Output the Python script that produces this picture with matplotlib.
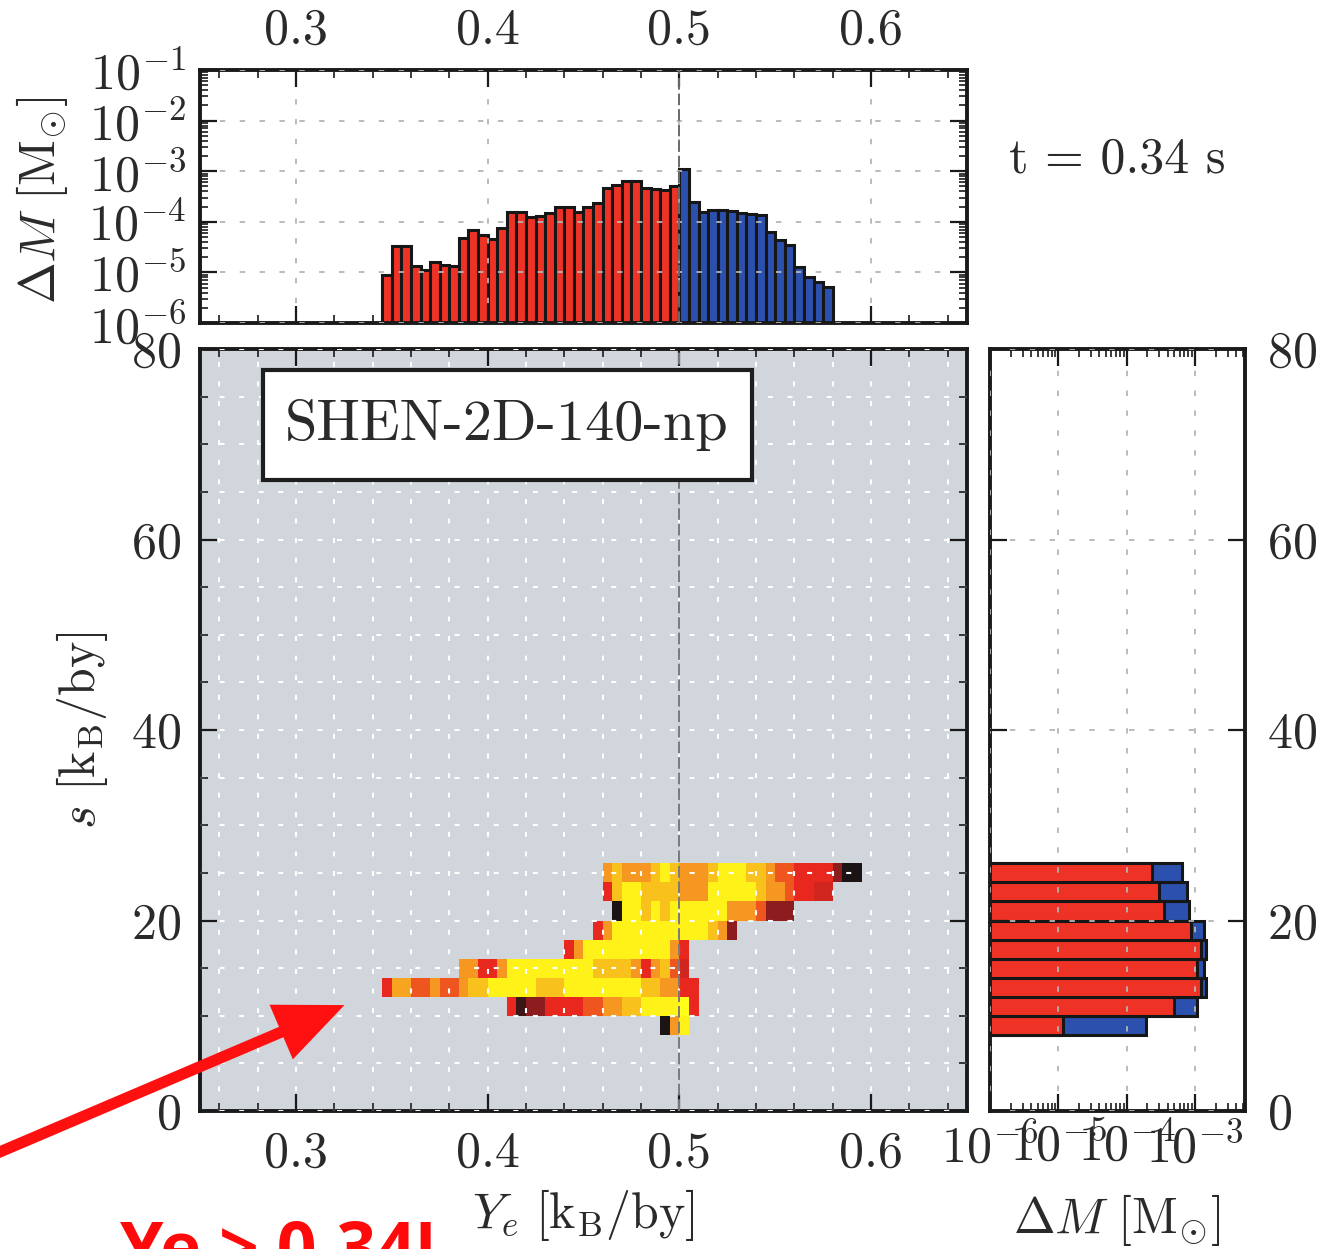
import numpy as np
import matplotlib
matplotlib.use("Agg")
import matplotlib.pyplot as plt
from matplotlib.colors import LinearSegmentedColormap
from matplotlib.ticker import MultipleLocator, LogLocator, NullFormatter
from matplotlib.patches import FancyArrowPatch, Rectangle, ArrowStyle

plt.rcParams['font.family'] = ['cmr10', 'DejaVu Serif']
plt.rcParams['mathtext.fontset'] = 'cm'
plt.rcParams['axes.unicode_minus'] = False
plt.rcParams['axes.formatter.use_mathtext'] = True

# ---------------- data ----------------
# top histogram: log10(Delta M) per Ye bin (bins of 0.005 starting at 0.345)
ye_bin_start = 0.345
ye_bin_width = 0.005
top_logm = [-5.05, -4.48, -4.48, -4.87, -4.95, -4.79, -4.85, -4.87, -4.32, -4.16,
            -4.26, -4.34, -4.13, -3.81, -3.81, -3.90, -3.89, -3.83, -3.70, -3.71,
            -3.81, -3.70, -3.62, -3.34, -3.27, -3.19, -3.19, -3.34, -3.36, -3.37,
            -3.29,
            -2.96, -3.61, -3.81, -3.77, -3.76, -3.78, -3.83, -3.84, -3.87, -4.20,
            -4.36, -4.46, -4.89, -5.09, -5.19, -5.29]

# right histogram: entropy bins (lower edges), log10 Delta M of Ye<0.5 part and total
s_bin_lo = [8, 10, 12, 14, 16, 18, 20, 22, 24]
s_bin_width = 2
right_red_logm = [-4.93, -3.31, -2.91, -2.97, -2.91, -3.06, -3.46, -3.53, -3.63]
right_total_logm = [-3.72, -2.97, -2.84, -2.87, -2.84, -2.87, -3.09, -3.12, -3.19]

# 2D histogram rows: (first Ye-bin index, log10 Delta M of consecutive cells)
heat_start_k = [29, 13, 0, 8, 19, 22, 24, 23, 23]
row_s08 = [-7.0, -4.9, -4.15]
row_s10 = [-5.65, -6.8, -6.25, -6.25, -5.65, -5.65, -5.65, -5.65, -5.3, -5.3,
           -4.9, -4.9, -4.6, -4.6, -4.15, -4.15, -4.15, -4.15, -4.0, -5.65]
row_s12 = [-5.65, -4.8, -4.8, -5.3, -5.3, -4.9, -5.3, -5.3, -4.9, -4.6,
           -4.6, -4.15, -4.15, -4.15, -4.15, -4.15, -4.6, -4.6, -4.6, -4.15,
           -4.15, -4.15, -4.15, -4.15, -4.15, -4.15, -4.15, -4.6, -4.6, -4.9,
           -4.9, -5.65, -5.65]
row_s14 = [-4.9, -4.9, -5.65, -5.65, -4.9, -4.15, -4.15, -4.15, -4.15, -4.15,
           -4.15, -4.15, -4.15, -4.15, -4.6, -4.6, -4.6, -4.6, -4.9, -5.65,
           -4.9, -4.6, -5.3, -5.8]
row_s16 = [-5.65, -4.9, -4.15, -4.15, -4.15, -4.15, -4.15, -4.15, -4.15, -4.15,
           -4.15, -4.9, -5.65]
row_s18 = [-5.65, -4.9, -4.15, -4.15, -4.15, -4.15, -4.15, -4.15, -4.15, -4.15,
           -4.15, -4.15, -4.6, -4.9, -6.25]
row_s20 = [-7.0, -4.15, -4.15, -4.6, -4.15, -4.6, -4.15, -4.15, -4.15, -4.15,
           -4.15, -4.15, -4.9, -4.9, -4.9, -5.3, -6.25, -6.25, -6.25]
row_s22 = [-5.65, -4.6, -4.15, -4.15, -4.6, -4.6, -4.6, -4.6, -4.9, -4.9,
           -4.9, -4.15, -4.15, -4.15, -4.15, -4.15, -4.6, -4.9, -4.9, -5.3,
           -5.65, -5.65, -5.8, -5.8]
row_s24 = [-4.9, -4.6, -4.9, -4.9, -4.9, -4.6, -4.15, -4.6, -4.9, -4.9,
           -4.9, -4.6, -4.15, -4.15, -4.15, -4.6, -4.6, -4.9, -5.3, -5.3,
           -5.65, -5.65, -5.65, -5.65, -6.25, -7.0, -7.0]
heat_rows = [row_s08, row_s10, row_s12, row_s14, row_s16, row_s18, row_s20, row_s22, row_s24]

ye_ticks = [0.3, 0.4, 0.5, 0.6]
s_ticks = [0, 20, 40, 60, 80]

# ---------------- figure ----------------
W, H = 1330, 1249
fig = plt.figure(figsize=(W / 100, H / 100), dpi=100)


def rect(x0, y0, x1, y1):
    return [x0 / W, 1 - y1 / H, (x1 - x0) / W, (y1 - y0) / H]


ax_main = fig.add_axes(rect(200, 349, 967, 1111))
ax_top = fig.add_axes(rect(200, 70, 967, 323))
ax_right = fig.add_axes(rect(990, 349, 1245, 1111))

TXT = '#2a2a2a'
FS = 36
RED = '#ee3326'
BLUE = '#2c50ad'

for ax in (ax_main, ax_top, ax_right):
    for sp in ax.spines.values():
        sp.set_linewidth(2.8)
        sp.set_color('#1a1a1a')
    ax.tick_params(which='both', direction='in', top=True, right=True,
                   labelsize=FS, labelcolor=TXT, color='#1a1a1a')
    ax.tick_params(which='major', length=12, width=1.6)
    ax.tick_params(which='minor', length=6, width=1.2)

# ---- main 2D histogram ----
cmap = LinearSegmentedColormap.from_list('heat', [
    (0.0, '#1c1414'), (0.25, '#8c1c1e'), (0.45, '#e8281f'), (0.6, '#f1621f'),
    (0.72, '#f6a021'), (0.85, '#fbd518'), (1.0, '#ffff18')])
n_k = 50
ye_edges = ye_bin_start + ye_bin_width * np.arange(n_k + 1)
s_edges = np.array(s_bin_lo + [s_bin_lo[-1] + s_bin_width])
grid = np.full((len(s_bin_lo), n_k), np.nan)
for i, (k0, vals) in enumerate(zip(heat_start_k, heat_rows)):
    grid[i, k0:k0 + len(vals)] = vals
ax_main.set_facecolor('#d1d5dc')
ax_main.pcolormesh(ye_edges, s_edges, np.ma.masked_invalid(grid), cmap=cmap,
                   vmin=-7, vmax=-4, zorder=1)
ax_main.set_xlim(0.25, 0.65)
ax_main.set_ylim(0, 80)
ax_main.set_xticks(ye_ticks)
ax_main.set_xticklabels([f'{t:.1f}' for t in ye_ticks])
ax_main.xaxis.set_minor_locator(MultipleLocator(0.02))
ax_main.set_yticks(s_ticks)
ax_main.yaxis.set_minor_locator(MultipleLocator(5))
ax_main.set_axisbelow(False)
ax_main.grid(which='both', color='white', linestyle=(0, (2.4, 7)), linewidth=1.5)
ax_main.axvline(0.5, color='#7a7a7a', linestyle=(0, (6, 2)), linewidth=1.4, zorder=3)
ax_main.tick_params(axis='x', pad=14)
ax_main.tick_params(axis='y', pad=14)

ax_main.add_patch(Rectangle(((263 - 200) / 767, 1 - (480 - 349) / 762),
                            (752 - 263) / 767, (480 - 370) / 762,
                            transform=ax_main.transAxes, facecolor='white',
                            edgecolor='#1e1e1e', linewidth=3, zorder=6))
ax_main.text((507 - 200) / 767, 1 - (425 - 349) / 762, 'SHEN-2D-140-np',
             transform=ax_main.transAxes, ha='center', va='center',
             fontsize=42, color=TXT, zorder=7)

# ---- top histogram ----
ye_left = ye_bin_start + ye_bin_width * np.arange(len(top_logm))
top_vals = 10.0 ** np.array(top_logm)
top_colors = [RED if x < 0.5 - 1e-9 else BLUE for x in ye_left]
ax_top.set_yscale('log')
ax_top.bar(ye_left, top_vals - 1e-8, bottom=1e-8, width=ye_bin_width, align='edge',
           color=top_colors, edgecolor='#161616', linewidth=2.2, zorder=2)
ax_top.set_xlim(0.25, 0.65)
ax_top.set_ylim(1e-6, 1e-1)
ax_top.set_xticks(ye_ticks)
ax_top.set_xticklabels([f'{t:.1f}' for t in ye_ticks])
ax_top.xaxis.set_minor_locator(MultipleLocator(0.02))
ax_top.yaxis.set_major_locator(LogLocator(base=10, numticks=10))
ax_top.yaxis.set_minor_locator(LogLocator(base=10, subs=np.arange(2, 10), numticks=20))
ax_top.yaxis.set_minor_formatter(NullFormatter())
ax_top.tick_params(axis='x', labelbottom=False, labeltop=True, pad=12)
ax_top.tick_params(axis='y', pad=10)
ax_top.set_axisbelow(False)
ax_top.grid(which='major', color='#b5b5b5', linestyle=(0, (3, 8)), linewidth=1.3)
ax_top.axvline(0.5, color='#6a6a6a', linestyle=(0, (6, 2)), linewidth=1.4, zorder=3)

# ---- right histogram ----
ax_right.set_xscale('log')
tot_vals = 10.0 ** np.array(right_total_logm)
red_vals = 10.0 ** np.array(right_red_logm)
ax_right.barh(s_bin_lo, tot_vals - 1e-8, left=1e-8, height=s_bin_width, align='edge',
              color=BLUE, edgecolor='#161616', linewidth=2.2, zorder=2)
ax_right.barh(s_bin_lo, red_vals - 1e-8, left=1e-8, height=s_bin_width, align='edge',
              color=RED, edgecolor='#161616', linewidth=2.2, zorder=2)
ax_right.set_xlim(1e-6, 5.4e-3)
ax_right.set_ylim(0, 80)
ax_right.set_xticks([1e-6, 1e-5, 1e-4, 1e-3])
ax_right.xaxis.set_minor_locator(LogLocator(base=10, subs=np.arange(2, 10), numticks=20))
ax_right.xaxis.set_minor_formatter(NullFormatter())
ax_right.set_yticks(s_ticks)
ax_right.tick_params(axis='y', labelleft=False, labelright=True, pad=16)
ax_right.tick_params(axis='x', pad=8)
ax_right.set_axisbelow(False)
ax_right.grid(which='major', color='#b5b5b5', linestyle=(0, (3, 8)), linewidth=1.3)

# ---- labels ----
fig.text(42 / W, 1 - 200 / H, r'$\Delta M\ [\mathrm{M}_{\odot}]$', rotation=90,
         ha='center', va='center', fontsize=FS, color=TXT)
fig.text(82 / W, 1 - 730 / H, r'$s\ [\mathrm{k_B/by}]$', rotation=90,
         ha='center', va='center', fontsize=FS, color=TXT)
fig.text(583 / W, 1 - 1215 / H, r'$Y_e\ [\mathrm{k_B/by}]$',
         ha='center', va='center', fontsize=FS, color=TXT)
fig.text(1117 / W, 1 - 1220 / H, r'$\Delta M\ [\mathrm{M}_{\odot}]$',
         ha='center', va='center', fontsize=FS, color=TXT)
fig.text(1117 / W, 1 - 160 / H, 't = 0.34 s', ha='center', va='center',
         fontsize=FS, color=TXT)

# ---- red annotation ----
arrow = FancyArrowPatch(posA=(-12 / W, 1 - 1157 / H), posB=(347 / W, 1 - 1004 / H),
                        transform=fig.transFigure,
                        arrowstyle=ArrowStyle.Simple(head_length=1.1, head_width=0.95,
                                                     tail_width=0.18),
                        mutation_scale=45, color='#ff1010', linewidth=0)
fig.add_artist(arrow)
fig.text(120 / W, 1 - 1272 / H, 'Ye > 0.34!', ha='left', va='baseline',
         fontsize=50, fontweight='bold', family=['Open Sans', 'DejaVu Sans'],
         color='#ff0a0a')

fig.savefig('out.png', dpi=100)
